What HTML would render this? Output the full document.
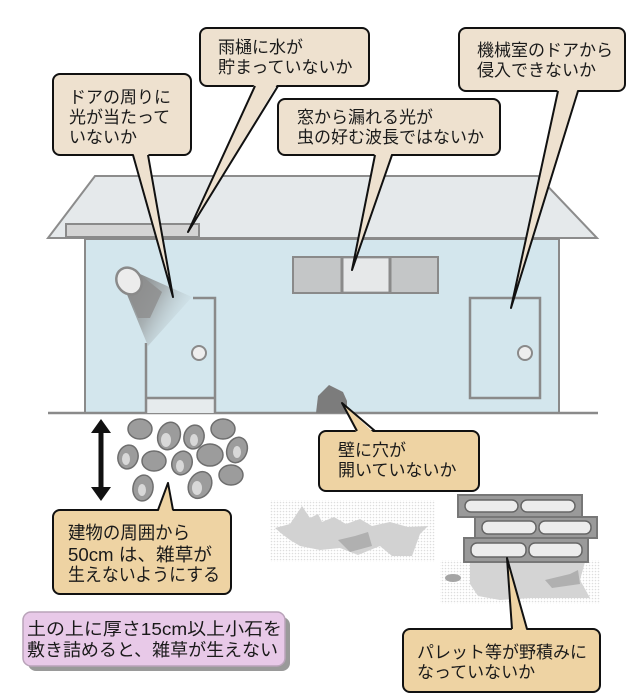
<!DOCTYPE html>
<html><head><meta charset="utf-8">
<style>
html,body{margin:0;padding:0;background:#fff;}
svg{display:block;}
text{font-family:"Liberation Sans","Noto Sans CJK JP",sans-serif;fill:#1a1a1a;}
</style></head>
<body>
<svg width="641" height="699" viewBox="0 0 641 699" xmlns="http://www.w3.org/2000/svg">
<defs>
  <linearGradient id="cone" x1="0" y1="0" x2="1" y2="0.6">
    <stop offset="0" stop-color="#7a7a7a"/>
    <stop offset="0.5" stop-color="#a9b2b5"/>
    <stop offset="1" stop-color="#d3e7ee" stop-opacity="0.2"/>
  </linearGradient>
  <pattern id="dots" width="3" height="3" patternUnits="userSpaceOnUse">
    <rect width="3" height="3" fill="#fff"/>
    <circle cx="1.5" cy="1.5" r="0.8" fill="#bbb"/>
  </pattern>
</defs>

<!-- roof -->
<polygon points="95,176 538,176 597,238 48,238" fill="#e5e9eb" stroke="#8c8c8c" stroke-width="2"/>
<!-- gutter -->
<rect x="66" y="224" width="133" height="13" fill="#d4d4d4" stroke="#8a8a8a" stroke-width="2"/>
<!-- wall -->
<rect x="85" y="239" width="474" height="174" fill="#d3e6ed" stroke="#8a8a8a" stroke-width="2"/>
<!-- ground line -->
<line x1="48" y1="413" x2="598" y2="413" stroke="#8a8a8a" stroke-width="2.5"/>

<!-- windows -->
<rect x="293" y="257" width="145" height="36" fill="#c4c6c7" stroke="#8a8a8a" stroke-width="2"/>
<rect x="342" y="259" width="48" height="32" fill="#e6e8e9"/>
<line x1="342" y1="257" x2="342" y2="293" stroke="#8a8a8a" stroke-width="3"/>
<line x1="390" y1="257" x2="390" y2="293" stroke="#8a8a8a" stroke-width="3"/>

<!-- door 1 -->
<rect x="146" y="398" width="69" height="15" fill="#e6ebed"/>
<polyline points="193,298 215,298 215,413" fill="none" stroke="#8a8a8a" stroke-width="2.5"/>
<line x1="146" y1="343" x2="146" y2="413" stroke="#8a8a8a" stroke-width="2.5"/>
<line x1="146" y1="398" x2="215" y2="398" stroke="#8a8a8a" stroke-width="2.5"/>
<circle cx="199" cy="353" r="7" fill="#eee" stroke="#8a8a8a" stroke-width="2"/>
<!-- lamp -->
<polygon points="126,292 140,274 192,297 148,346" fill="url(#cone)"/>
<polygon points="128,292 142,276 162,292 150,318 138,318" fill="#8d8d8d" opacity="0.8"/>
<ellipse cx="129" cy="281" rx="12" ry="14" transform="rotate(-35 129 281)" fill="#ececec" stroke="#8a8a8a" stroke-width="2.5"/>

<!-- door 2 -->
<rect x="470" y="298" width="70" height="100" fill="none" stroke="#8a8a8a" stroke-width="2.5"/>
<circle cx="525" cy="353" r="7" fill="#eee" stroke="#8a8a8a" stroke-width="2"/>

<!-- hole -->
<polygon points="316,413 318,396 329,385 343,392 347,401 347,413" fill="#7c7c7c"/>

<!-- stones -->
<g fill="#9c9c9c" stroke="#6e6e6e" stroke-width="1.5">
  <ellipse cx="140" cy="429" rx="12" ry="10"/>
  <ellipse cx="169" cy="436" rx="11" ry="14" transform="rotate(20 169 436)"/>
  <ellipse cx="194" cy="437" rx="10" ry="12" transform="rotate(15 194 437)"/>
  <ellipse cx="223" cy="429" rx="12" ry="10"/>
  <ellipse cx="128" cy="457" rx="10" ry="12" transform="rotate(15 128 457)"/>
  <ellipse cx="154" cy="461" rx="12" ry="10"/>
  <ellipse cx="182" cy="463" rx="10" ry="12" transform="rotate(20 182 463)"/>
  <ellipse cx="210" cy="455" rx="13" ry="11"/>
  <ellipse cx="237" cy="450" rx="10" ry="13" transform="rotate(20 237 450)"/>
  <ellipse cx="143" cy="488" rx="10" ry="13" transform="rotate(10 143 488)"/>
  <ellipse cx="200" cy="485" rx="11" ry="14" transform="rotate(30 200 485)"/>
  <ellipse cx="231" cy="475" rx="12" ry="10"/>
</g>
<g fill="#d8d8d8">
  <ellipse cx="166" cy="440" rx="5" ry="7"/>
  <ellipse cx="194" cy="440" rx="4" ry="6"/>
  <ellipse cx="126" cy="459" rx="4" ry="6"/>
  <ellipse cx="180" cy="466" rx="4" ry="6"/>
  <ellipse cx="237" cy="452" rx="4" ry="6"/>
  <ellipse cx="142" cy="490" rx="4" ry="6"/>
  <ellipse cx="197" cy="488" rx="5" ry="7"/>
</g>

<!-- double arrow -->
<line x1="101" y1="430" x2="101" y2="490" stroke="#111" stroke-width="5"/>
<polygon points="101,419 91,433 111,433" fill="#111"/>
<polygon points="101,501 91,487 111,487" fill="#111"/>

<!-- grass left -->
<rect x="270" y="500" width="165" height="62" fill="url(#dots)" opacity="0.5"/>
<polygon points="275,528 290,524 298,512 302,506 310,518 318,514 322,522 334,517 346,524 360,519 372,526 390,522 408,527 428,526 420,534 412,556 392,556 380,546 358,555 340,548 320,550 300,546 290,540 282,534" fill="#d2d2d2"/>
<polygon points="338,540 355,536 368,532 372,546 350,552" fill="#b0b0b0"/>
<!-- grass under pallet -->
<rect x="440" y="560" width="160" height="44" fill="url(#dots)" opacity="0.5"/>
<polygon points="470,562 585,562 580,580 590,598 530,598 500,600 478,596 470,584" fill="#d4d4d4"/>
<polygon points="545,580 570,574 578,570 580,584 552,588" fill="#b0b0b0"/>
<ellipse cx="453" cy="578" rx="8" ry="4" fill="#a5a5a5"/>

<!-- pallets -->
<g stroke="#777" stroke-width="2">
  <rect x="458" y="495" width="124" height="22" fill="#9a9a9a"/>
  <rect x="475" y="517" width="122" height="21" fill="#9a9a9a"/>
  <rect x="464" y="538" width="124" height="24" fill="#9a9a9a"/>
</g>
<g fill="#ececec" stroke="#666" stroke-width="1.5">
  <rect x="465" y="500" width="53" height="12" rx="6"/>
  <rect x="521" y="500" width="54" height="12" rx="6"/>
  <rect x="482" y="521" width="54" height="13" rx="6"/>
  <rect x="539" y="521" width="52" height="13" rx="6"/>
  <rect x="471" y="543" width="55" height="14" rx="6"/>
  <rect x="529" y="543" width="53" height="14" rx="6"/>
</g>

<!-- callouts -->
<g stroke="#111" stroke-width="2" stroke-linejoin="round">
  <rect x="53" y="74" width="138" height="81" rx="7" fill="#eee1cf"/>
  <polygon points="133,152 148,152 173,297" fill="#eee1cf" stroke="none"/>
  <polyline points="133,155 173,297 148,155" fill="none"/>

  <rect x="200" y="28" width="169" height="58" rx="7" fill="#eee1cf"/>
  <polygon points="255,83 278,83 188,232" fill="#eee1cf" stroke="none"/>
  <polyline points="255,86 188,232 278,86" fill="none"/>

  <rect x="278" y="99" width="222" height="56" rx="7" fill="#eee1cf"/>
  <polygon points="375,152 392,152 352,270" fill="#eee1cf" stroke="none"/>
  <polyline points="375,155 352,270 392,155" fill="none"/>

  <rect x="459" y="28" width="166" height="63" rx="7" fill="#eee1cf"/>
  <polygon points="558,88 578,88 511,308" fill="#eee1cf" stroke="none"/>
  <polyline points="558,91 511,308 578,91" fill="none"/>

  <rect x="319" y="431" width="160" height="60" rx="7" fill="#eed3a3"/>
  <polygon points="357,434 375,434 342,403" fill="#eed3a3" stroke="none"/>
  <polyline points="357,431 342,403 375,431" fill="none"/>

  <rect x="53" y="510" width="178" height="84" rx="7" fill="#eed3a3"/>
  <polygon points="158,513 173,513 168,483" fill="#eed3a3" stroke="none"/>
  <polyline points="158,510 168,483 173,510" fill="none"/>

  <rect x="403" y="629" width="197" height="63" rx="7" fill="#eed3a3"/>
  <polygon points="512,632 527,632 507,558" fill="#eed3a3" stroke="none"/>
  <polyline points="512,629 507,558 527,629" fill="none"/>
</g>

<!-- pink note -->
<rect x="28" y="617" width="262" height="54" rx="8" fill="#9a9a9a"/>
<rect x="23" y="612" width="262" height="54" rx="8" fill="#e8c9e8" stroke="#b9a3b9" stroke-width="1.5"/>

<!-- text -->
<g font-size="17">
  <text x="69" y="103">ドアの周りに</text>
  <text x="69" y="123">光が当たって</text>
  <text x="69" y="143">いないか</text>

  <text x="218" y="53">雨樋に水が</text>
  <text x="218" y="73">貯まっていないか</text>

  <text x="297" y="123">窓から漏れる光が</text>
  <text x="297" y="143">虫の好む波長ではないか</text>

  <text x="477" y="56">機械室のドアから</text>
  <text x="477" y="76">侵入できないか</text>

  <text x="338" y="456">壁に穴が</text>
  <text x="338" y="476">開いていないか</text>

  <text x="417" y="658">パレット等が野積みに</text>
  <text x="417" y="678">なっていないか</text>
</g>
<g font-size="18">
  <text x="68" y="539" textLength="122" lengthAdjust="spacingAndGlyphs">建物の周囲から</text>
  <text x="68" y="561" textLength="144" lengthAdjust="spacingAndGlyphs">50cm は、雑草が</text>
  <text x="68" y="581" textLength="152" lengthAdjust="spacingAndGlyphs">生えないようにする</text>
</g>
<g font-size="17.5">
  <text x="27" y="635" textLength="255" lengthAdjust="spacingAndGlyphs">土の上に厚さ15cm以上小石を</text>
  <text x="27" y="656" textLength="251" lengthAdjust="spacingAndGlyphs">敷き詰めると、雑草が生えない</text>
</g>
</svg>
</body></html>
